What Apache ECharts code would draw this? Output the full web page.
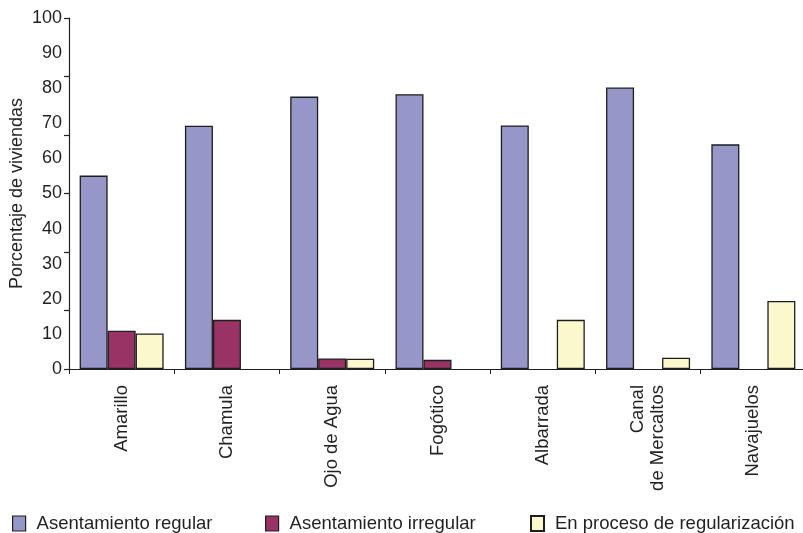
<!DOCTYPE html>
<html>
<head>
<meta charset="utf-8">
<script src="https://cdn.jsdelivr.net/npm/echarts@6/dist/echarts.min.js"></script>
<style>html,body{margin:0;padding:0;background:#fff}#c{width:803px;height:533px}</style>
</head>
<body>
<div id="c"></div>
<script>
const categories = ['Amarillo', 'Chamula', 'Ojo de Agua', 'Fogótico', 'Albarrada', 'Canal\nde Mercaltos', 'Navajuelos'];
const seriesNames = ['Asentamiento regular', 'Asentamiento irregular', 'En proceso de regularización'];
const regular = [55.1, 69.3, 77.6, 78.3, 69.4, 80.2, 64.0];
const irregular = [10.9, 14.0, 3.0, 2.6, null, null, null];
const proceso = [10.1, null, 2.9, null, 14.0, 3.2, 19.4];
const yTickLabels = [0, 10, 20, 30, 40, 50, 60, 70, 80, 90, 100];

const font = '"Liberation Sans", Arial, Helvetica, sans-serif';
const colors = ['#9696C8', '#993366', '#FAF8CC'];
const chart = echarts.init(document.getElementById('c'), null, {renderer: 'canvas'});

function mkSeries(name, data, color) {
  return {
    name: name, type: 'bar', data: data,
    barWidth: 28, barGap: '0%',
    itemStyle: {color: color, borderColor: '#1e1e1e', borderWidth: 1.3},
    emphasis: {disabled: true}
  };
}

chart.setOption({
  animation: false,
  textStyle: {fontFamily: font, color: '#231f20'},
  grid: {left: 69, top: 18, width: 737, height: 351, containLabel: false, outerBoundsMode: 'none'},
  legend: [0, 1, 2].map((i) => ({
    data: [{name: seriesNames[i], icon: 'rect'}],
    left: [12, 265, 530][i],
    top: 514,
    padding: 0,
    itemWidth: 13, itemHeight: 15,
    textStyle: {fontFamily: font, fontSize: 18.5, color: '#231f20', padding: [0, 0, 0, 6]},
    itemStyle: {borderColor: '#1e1e1e', borderWidth: i === 2 ? 2 : 1.2},
    selectedMode: false
  })),
  xAxis: {
    type: 'category',
    data: categories,
    axisLine: {lineStyle: {color: '#231f20', width: 1.2}},
    axisTick: {show: true, length: 5, inside: false, lineStyle: {color: '#231f20'}},
    axisLabel: {rotate: 90, fontSize: 18.5, margin: 16, color: '#231f20', fontFamily: font, interval: 0, lineHeight: 20}
  },
  yAxis: [{
    type: 'value', min: 0, max: 100, interval: 10,
    name: 'Porcentaje de viviendas',
    nameLocation: 'middle', nameGap: 43, nameMoveOverlap: false,
    nameTextStyle: {fontSize: 18, color: '#231f20', fontFamily: font},
    axisLine: {show: true, lineStyle: {color: '#231f20', width: 1.2}},
    axisTick: {show: false},
    splitLine: {show: false},
    axisLabel: {fontSize: 18, margin: 7, color: '#231f20', fontFamily: font,
      formatter: (v) => (yTickLabels.indexOf(v) >= 0 ? String(v) : '')}
  }, {
    type: 'value', min: 0, max: 100, interval: 100 / 6,
    position: 'left',
    axisLine: {show: false},
    axisTick: {show: true, length: 5, lineStyle: {color: '#231f20', width: 1.2}},
    axisLabel: {show: false},
    splitLine: {show: false}
  }],
  series: [
    mkSeries(seriesNames[0], regular, colors[0]),
    mkSeries(seriesNames[1], irregular, colors[1]),
    mkSeries(seriesNames[2], proceso, colors[2])
  ]
});
</script>
</body>
</html>
